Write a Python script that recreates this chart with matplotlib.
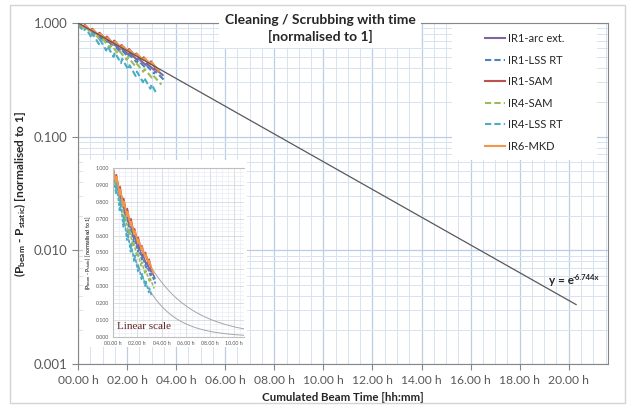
import numpy as np
import matplotlib
matplotlib.use('Agg')
import matplotlib.pyplot as plt
from matplotlib.patches import Rectangle
from matplotlib.ticker import MultipleLocator, FuncFormatter, LogLocator, NullFormatter

plt.rcParams['font.family'] = ['Lato', 'DejaVu Sans']
plt.rcParams['mathtext.fontset'] = 'custom'
plt.rcParams['mathtext.rm'] = 'Lato'
plt.rcParams['mathtext.bf'] = 'Lato:bold'
plt.rcParams['mathtext.it'] = 'Lato:italic'

# data (time in hours, pressure normalised to 1)
arc_t = [0.00, 0.30, 0.35, 0.65, 0.70, 1.00, 1.05, 1.35, 1.40, 1.70, 1.75, 2.05, 2.10, 2.40, 2.45, 2.75, 2.80, 3.10, 3.15, 3.45]
arc_v = [1.00, 0.896, 0.918, 0.807, 0.827, 0.726, 0.745, 0.654, 0.670, 0.588, 0.604, 0.530, 0.544, 0.477, 0.490, 0.429, 0.441, 0.387, 0.397, 0.348]

ir1lss_t = [0.00, 0.30, 0.35, 0.65, 0.70, 1.00, 1.05, 1.35, 1.40, 1.70, 1.75, 2.05, 2.10, 2.40, 2.45, 2.75, 2.80, 3.10, 3.15, 3.50]
ir1lss_v = [0.98, 0.881, 0.921, 0.788, 0.823, 0.704, 0.736, 0.630, 0.658, 0.564, 0.588, 0.503, 0.526, 0.450, 0.471, 0.403, 0.420, 0.360, 0.376, 0.316]

ir1sam_t = [0.00, 0.20, 0.28, 0.50, 0.58, 0.80, 0.88, 1.10, 1.18, 1.40, 1.48, 1.70, 1.78, 2.00, 2.08, 2.30, 2.38, 2.60, 2.68, 2.90, 2.98, 3.15]
ir1sam_v = [0.99, 0.93, 0.96, 0.86, 0.89, 0.79, 0.82, 0.73, 0.76, 0.67, 0.70, 0.62, 0.64, 0.57, 0.59, 0.52, 0.54, 0.48, 0.50, 0.44, 0.46, 0.40]

ir4sam_t = [0.00, 0.28, 0.34, 0.62, 0.68, 0.96, 1.02, 1.30, 1.36, 1.64, 1.70, 1.98, 2.04, 2.32, 2.38, 2.66, 2.72, 3.00, 3.06, 3.40]
ir4sam_v = [0.97, 0.869, 0.913, 0.771, 0.810, 0.683, 0.717, 0.605, 0.636, 0.537, 0.563, 0.475, 0.500, 0.421, 0.443, 0.373, 0.392, 0.331, 0.347, 0.287]

ir4lss_t = [0.00, 0.25, 0.30, 0.55, 0.60, 0.85, 0.90, 1.15, 1.20, 1.45, 1.50, 1.75, 1.80, 2.05, 2.10, 2.35, 2.40, 2.65, 2.70, 2.95, 3.00, 3.20]
ir4lss_v = [0.96, 0.844, 0.923, 0.742, 0.812, 0.652, 0.713, 0.573, 0.627, 0.504, 0.551, 0.443, 0.484, 0.389, 0.425, 0.342, 0.374, 0.301, 0.329, 0.264, 0.289, 0.238]

mkd_t = [0.00, 0.25, 0.30, 0.55, 0.60, 0.85, 0.90, 1.15, 1.20, 1.45, 1.50, 1.75, 1.80, 2.05, 2.10, 2.35, 2.40, 2.65, 2.70, 2.95, 3.00, 3.30]
mkd_v = [1.00, 0.915, 0.949, 0.843, 0.873, 0.775, 0.803, 0.714, 0.741, 0.658, 0.682, 0.606, 0.628, 0.558, 0.578, 0.514, 0.533, 0.473, 0.490, 0.435, 0.451, 0.380]

series = [
    ('IR1-arc ext.', arc_t, arc_v, '#8064a2', '-'),
    ('IR1-LSS RT', ir1lss_t, ir1lss_v, '#4f81bd', '--'),
    ('IR1-SAM', ir1sam_t, ir1sam_v, '#c0504d', '-'),
    ('IR4-SAM', ir4sam_t, ir4sam_v, '#9bbb59', '--'),
    ('IR4-LSS RT', ir4lss_t, ir4lss_v, '#4bacc6', '--'),
    ('IR6-MKD', mkd_t, mkd_v, '#f79646', '-'),
]

# trendline y = exp(-6.744 x), x in days; second curve only in the inset
fit_rate = 6.744
fit_rate_low = 10.2
fit_end = 20.3

W, H = 633, 409
fig = plt.figure(figsize=(6.33, 4.09), dpi=100)


def fx(px):
    return px / W


def fy(py):
    return 1 - py / H


grey = '#595959'
dark = '#262626'
spine_c = '#868686'
ylab = r'(P$_{\mathbf{beam}}$ - P$_{\mathbf{static}}$) [normalised to 1]'

# outer chart border
fig.patches.append(Rectangle((fx(10), fy(403)), fx(625) - fx(10), fy(5) - fy(403),
                             transform=fig.transFigure, fill=False, edgecolor='#d4d4d4', lw=1))

ax = fig.add_axes([fx(78), fy(364), fx(608) - fx(78), fy(23) - fy(364)])
ax.set_axisbelow(True)
ax.set_yscale('log')
ax.set_ylim(0.001, 1.0)
ax.set_xlim(0, 21.6)

ax.xaxis.set_major_locator(MultipleLocator(2))
ax.xaxis.set_minor_locator(MultipleLocator(0.5))
ax.xaxis.set_major_formatter(FuncFormatter(lambda v, p: '%05.2f h' % v))
ax.yaxis.set_major_locator(LogLocator(base=10))
ax.yaxis.set_minor_locator(LogLocator(base=10, subs=np.arange(2, 10)))
ax.yaxis.set_major_formatter(FuncFormatter(lambda v, p: '%.3f' % v))
ax.yaxis.set_minor_formatter(NullFormatter())
ax.grid(which='major', color='#b9cde5', lw=0.9)
ax.grid(which='minor', color='#d7e3f2', lw=0.7)
ax.tick_params(which='major', length=4, color=spine_c, labelcolor=grey)
ax.tick_params(axis='y', labelsize=9.5)
ax.tick_params(axis='x', labelsize=8.7, pad=4)
ax.tick_params(which='minor', length=0)
for s in ax.spines.values():
    s.set_color(spine_c)

for name, t, v, c, ls in series:
    ax.plot(t, v, color=c, ls=ls, lw=1.5, label=name, dashes=(3, 1.5) if ls == '--' else (None, None))

fit_t = np.linspace(0, fit_end, 60)
ax.plot(fit_t, np.exp(-fit_rate * fit_t / 24), color='#595959', lw=0.9, zorder=3)
fig.text(fx(549), fy(281), 'y = e', ha='left', va='center', fontsize=8.5, weight='bold', color=dark)
fig.text(fx(573), fy(277), '-%.3fx' % fit_rate, ha='left', va='center', fontsize=5.5, weight='bold', color=dark)

ax.set_xlabel('Cumulated Beam Time [hh:mm]', fontsize=8.3, weight='bold', color=dark, labelpad=4)
ax.set_ylabel(ylab, fontsize=8.6, weight='bold', color=dark, labelpad=4)

# legend with its own white panel
ax.add_patch(Rectangle((fx(452), fy(160)), fx(597) - fx(452), fy(24) - fy(160),
                       transform=fig.transFigure, facecolor='white', edgecolor='none', zorder=1.5))
leg = ax.legend(loc='upper left', bbox_to_anchor=(fx(485), fy(33)), bbox_transform=fig.transFigure,
                frameon=False, fontsize=8, borderpad=0, borderaxespad=0, handlelength=1.8,
                handletextpad=0.3, labelspacing=0.95)
for txt in leg.get_texts():
    txt.set_color(dark)

fig.text(fx(320), fy(28.5), 'Cleaning / Scrubbing with time\n[normalised to 1]', ha='center', va='center',
         fontsize=10, weight='bold', color=dark, linespacing=1.3,
         bbox=dict(facecolor='white', edgecolor='none', pad=4))

# inset panel (linear scale)
box = fig.add_axes([fx(83), fy(347), fx(247) - fx(83), fy(160) - fy(347)], zorder=3)
box.set_facecolor('white')
box.set_xticks([])
box.set_yticks([])
for s in box.spines.values():
    s.set_visible(False)

ins = fig.add_axes([fx(113), fy(337), fx(244) - fx(113), fy(168) - fy(337)], zorder=4)
ins.set_axisbelow(True)
ins.set_xlim(0, 10.8)
ins.set_ylim(0, 1.0)
ins.xaxis.set_major_locator(MultipleLocator(2))
ins.xaxis.set_minor_locator(MultipleLocator(0.5))
ins.yaxis.set_major_locator(MultipleLocator(0.1))
ins.yaxis.set_minor_locator(MultipleLocator(0.025))
ins.xaxis.set_major_formatter(FuncFormatter(lambda v, p: '%05.2f h' % v))
ins.yaxis.set_major_formatter(FuncFormatter(lambda v, p: '%.3f' % v))
ins.grid(which='major', color='#d0d0d0', lw=0.5)
ins.grid(which='minor', color='#e3ebf5', lw=0.4)
ins.tick_params(which='both', length=0, labelcolor=grey, labelsize=3.8, pad=3)
ins.spines['right'].set_visible(False)
for k in ('left', 'bottom', 'top'):
    ins.spines[k].set_color('#bfbfbf')
    ins.spines[k].set_linewidth(0.8)

curve_t = np.linspace(0, 10.8, 80)
ins.plot(curve_t, np.exp(-fit_rate * curve_t / 24), color='#a6a6a6', lw=0.7)
ins.plot(curve_t, np.exp(-fit_rate_low * curve_t / 24), color='#a6a6a6', lw=0.7)
for name, t, v, c, ls in series:
    ins.plot(t, v, color=c, ls=ls, lw=1.2, dashes=(2, 1) if ls == '--' else (None, None))

ins.set_ylabel(ylab, fontsize=3.8, weight='bold', color='#404040', labelpad=2)
ins.text(0.3, 0.06, 'Linear scale', fontsize=8, family='Liberation Serif', color='#632523',
         ha='left', va='center')

fig.savefig('out.png', dpi=100)
